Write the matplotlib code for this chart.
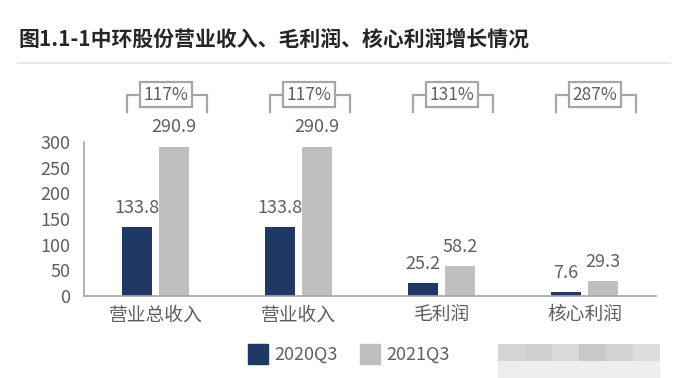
import matplotlib.pyplot as plt
import numpy as np
from matplotlib.patches import Rectangle
from matplotlib.lines import Line2D

plt.rcParams['font.family'] = ['Noto Sans CJK SC', 'DejaVu Sans']

# datos
categorias = ['营业总收入', '营业收入', '毛利润', '核心利润']
v2020 = [133.8, 133.8, 25.2, 7.6]
v2021 = [290.9, 290.9, 58.2, 29.3]
crecimiento = ['117%', '117%', '131%', '287%']
series = ['2020Q3', '2021Q3']
yticks = [0, 50, 100, 150, 200, 250, 300]

azul = '#1f3864'
gris = '#bfbfbf'
texto = '#5f5f5f'
linea = '#a6a6a6'

fig = plt.figure(figsize=(6.79, 3.78), dpi=100)
ax = fig.add_axes([0.124, 0.217, 0.842, 0.407])

x = np.arange(len(categorias))
ancho = 0.21
b1 = ax.bar(x - 0.13, v2020, ancho, color=azul)
b2 = ax.bar(x + 0.13, v2021, ancho, color=gris)

for barras, vals in [(b1, v2020), (b2, v2021)]:
    for b, v in zip(barras, vals):
        ax.annotate(f'{v:.1f}', (b.get_x() + b.get_width() / 2, v),
                    xytext=(0, 14), textcoords='offset points',
                    ha='center', va='center', fontsize=13, color=texto,
                    annotation_clip=False)

# corchetes con el % de crecimiento
y_med, y_baj = 392, 358
for xi, txt in zip(x, crecimiento):
    izq, der = xi - 0.2, xi + 0.36
    ax.plot([izq, izq, der, der], [y_baj, y_med, y_med, y_baj],
            color=linea, lw=1.6, clip_on=False, solid_joinstyle='miter')
    ax.text(xi + 0.075, y_med, txt, ha='center', va='center', fontsize=12.5,
            color=texto, clip_on=False,
            bbox=dict(boxstyle='square,pad=0.2', fc='white', ec=linea, lw=1.6))

ax.set_xlim(-0.5, 3.5)
ax.set_ylim(0, 300)
ax.set_yticks(yticks)
ax.set_xticks(x)
ax.set_xticklabels(categorias, fontsize=13.5, color=texto)
ax.tick_params(axis='y', labelsize=13, colors=texto, length=0, pad=10)
ax.tick_params(axis='x', length=0, pad=6)
for s in ['top', 'right']:
    ax.spines[s].set_visible(False)
for s in ['left', 'bottom']:
    ax.spines[s].set_color(linea)
    ax.spines[s].set_linewidth(1.2)

# titulo y linea separadora
fig.text(0.027, 0.895, '图1.1-1中环股份营业收入、毛利润、核心利润增长情况',
         fontsize=15, fontweight='bold', color='#262626', va='center')
fig.add_artist(Line2D([0.027, 0.987], [0.833, 0.833], color='#e3e3e3', lw=1.2))

handles = [Line2D([], [], marker='s', ls='', markersize=14, color=c) for c in [azul, gris]]
fig.legend(handles, series, loc='center', bbox_to_anchor=(0.513, 0.061), ncol=2,
           frameon=False, fontsize=13, labelcolor=texto, handletextpad=0.3,
           columnspacing=1.2, handlelength=1.2)

# marca de agua borrosa
tonos = ['#d4d4d4', '#cfcfcf', '#d9d9d9', '#c9c9c9', '#d2d2d2', '#dcdcdc']
w = (0.972 - 0.733) / len(tonos)
for i, t in enumerate(tonos):
    fig.add_artist(Rectangle((0.733 + i * w, 0.045), w, 0.045, color=t, lw=0))
    fig.add_artist(Rectangle((0.733 + i * w, 0.0), w, 0.045, color='#eeeeee', lw=0))

fig.savefig('out.png', dpi=100, facecolor='white')
